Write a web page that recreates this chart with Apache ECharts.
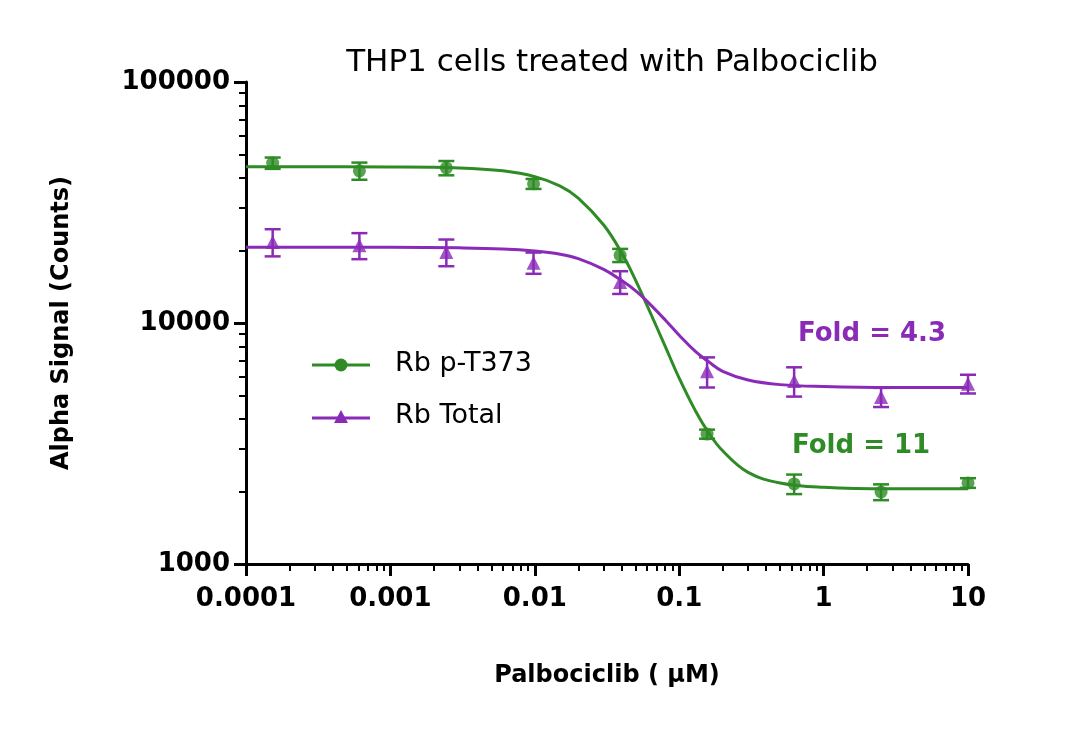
<!DOCTYPE html>
<html><head><meta charset="utf-8">
<script src="https://cdn.jsdelivr.net/npm/echarts@6/dist/echarts.min.js"></script>
<style>html,body{margin:0;padding:0;background:#fff}#c{width:1080px;height:735px}</style>
</head><body><div id="c"></div>
<script>
var doses = [0.000153, 0.00061, 0.00244, 0.0098, 0.039, 0.156, 0.625, 2.5, 10];
var phosMean = [46100, 42800, 44000, 37800, 19100, 3460, 2150, 1990, 2170];
var phosErr = [2500, 3500, 3000, 1800, 1200, 150, 200, 150, 100];
var totalMean = [21700, 21000, 19700, 17800, 14800, 6300, 5750, 4930, 5600];
var totalErr = [2800, 2600, 2500, 1800, 1600, 900, 800, 450, 500];
var curveX = [0.0001, 0.001, 0.003, 0.006, 0.01, 0.015, 0.02, 0.03, 0.04, 0.05, 0.06, 0.08, 0.1, 0.13, 0.16, 0.2, 0.3, 0.5, 1, 3, 10];
var phosCurve = [44500, 44400, 44000, 42800, 40500, 37000, 33000, 25500, 19500, 15000, 11800, 8000, 5900, 4300, 3500, 2950, 2400, 2170, 2080, 2050, 2050];
var totalCurve = [20600, 20600, 20500, 20300, 19900, 19300, 18500, 16700, 15000, 13600, 12300, 10300, 8900, 7600, 6900, 6300, 5800, 5550, 5450, 5400, 5400];
var xTicks = ['0.0001', '0.001', '0.01', '0.1', '1', '10'];
var yTicks = ['1000', '10000', '100000'];

var green = '#2e8b26', purple = '#8a2bb8';
var FONT = 'DejaVu Sans';
function pairs(xs, ys) { return xs.map(function (x, i) { return [x, ys[i]]; }); }
function errSeries(mean, err, color) {
  return {
    type: 'custom', silent: true, z: 3,
    data: doses.map(function (d, i) { return [d, mean[i] - err[i], mean[i] + err[i]]; }),
    renderItem: function (params, api) {
      var lo = api.coord([api.value(0), api.value(1)]);
      var hi = api.coord([api.value(0), api.value(2)]);
      var st = { stroke: color, lineWidth: 2.5 };
      return { type: 'group', children: [
        { type: 'line', shape: { x1: lo[0], y1: lo[1], x2: hi[0], y2: hi[1] }, style: st },
        { type: 'line', shape: { x1: lo[0] - 8, y1: lo[1], x2: lo[0] + 8, y2: lo[1] }, style: st },
        { type: 'line', shape: { x1: hi[0] - 8, y1: hi[1], x2: hi[0] + 8, y2: hi[1] }, style: st }
      ] };
    }
  };
}
var axisFont = { fontFamily: FONT, fontWeight: 'bold', fontSize: 24, color: '#000' };
var chart = echarts.init(document.getElementById('c'));
chart.setOption({
  backgroundColor: '#fff',
  animation: false,
  title: { text: 'THP1 cells treated with Palbociclib', left: 607, top: 42, textAlign: 'center',
    textStyle: { fontFamily: FONT, fontWeight: 'normal', fontSize: 31, color: '#000' } },
  grid: { left: 246, right: 112, top: 82, bottom: 171 },
  legend: { show: false },
  xAxis: {
    type: 'log', logBase: 10, min: 0.0001, max: 10,
    name: 'Palbociclib ( µM)', nameLocation: 'middle', nameGap: 100,
    nameTextStyle: axisFont,
    axisLine: { lineStyle: { color: '#000', width: 3 } },
    axisTick: { length: 12, lineStyle: { width: 3, color: '#000' } },
    minorTick: { show: true, splitNumber: 9, length: 7, lineStyle: { width: 2, color: '#000' } },
    splitLine: { show: false },
    axisLabel: { margin: 22, fontFamily: FONT, fontWeight: 'bold', fontSize: 26, color: '#000',
      formatter: function (v) { return xTicks[Math.round(Math.log10(v)) + 4]; } }
  },
  yAxis: {
    type: 'log', logBase: 10, min: 1000, max: 100000,
    name: 'Alpha Signal (Counts)', nameLocation: 'middle', nameGap: 172,
    nameTextStyle: axisFont,
    axisLine: { show: true, lineStyle: { color: '#000', width: 3 } },
    axisTick: { show: true, length: 12, lineStyle: { width: 3, color: '#000' } },
    minorTick: { show: true, splitNumber: 9, length: 7, lineStyle: { width: 2, color: '#000' } },
    splitLine: { show: false },
    axisLabel: { margin: 16, fontFamily: FONT, fontWeight: 'bold', fontSize: 26, color: '#000',
      formatter: function (v) { return yTicks[Math.round(Math.log10(v)) - 3]; } }
  },
  series: [
    { name: 'Rb p-T373 fit', type: 'line', smooth: 0.4, showSymbol: false, data: pairs(curveX, phosCurve),
      lineStyle: { color: green, width: 3 }, z: 2 },
    { name: 'Rb Total fit', type: 'line', smooth: 0.4, showSymbol: false, data: pairs(curveX, totalCurve),
      lineStyle: { color: purple, width: 3 }, z: 2 },
    errSeries(phosMean, phosErr, green),
    errSeries(totalMean, totalErr, purple),
    { name: 'Rb p-T373', type: 'scatter', symbol: 'circle', symbolSize: 13, data: pairs(doses, phosMean),
      itemStyle: { color: green }, z: 4 },
    { name: 'Rb Total', type: 'scatter', symbol: 'triangle', symbolSize: 14, data: pairs(doses, totalMean),
      itemStyle: { color: purple }, z: 4 }
  ],
  graphic: [
    { type: 'line', shape: { x1: 312, y1: 365, x2: 370, y2: 365 }, style: { stroke: green, lineWidth: 3 } },
    { type: 'circle', shape: { cx: 341, cy: 365, r: 6.5 }, style: { fill: green } },
    { type: 'text', left: 395, top: 350, style: { text: 'Rb p-T373', fontFamily: FONT, fontSize: 27, fill: '#000' } },
    { type: 'line', shape: { x1: 312, y1: 418, x2: 370, y2: 418 }, style: { stroke: purple, lineWidth: 3 } },
    { type: 'polygon', shape: { points: [[341, 410], [348, 423], [334, 423]] }, style: { fill: purple } },
    { type: 'text', left: 395, top: 402, style: { text: 'Rb Total', fontFamily: FONT, fontSize: 27, fill: '#000' } },
    { type: 'text', left: 798, top: 321, style: { text: 'Fold = 4.3', fontFamily: FONT, fontWeight: 'bold', fontSize: 26, fill: purple } },
    { type: 'text', left: 792, top: 433, style: { text: 'Fold = 11', fontFamily: FONT, fontWeight: 'bold', fontSize: 26, fill: green } }
  ]
});
</script></body></html>
